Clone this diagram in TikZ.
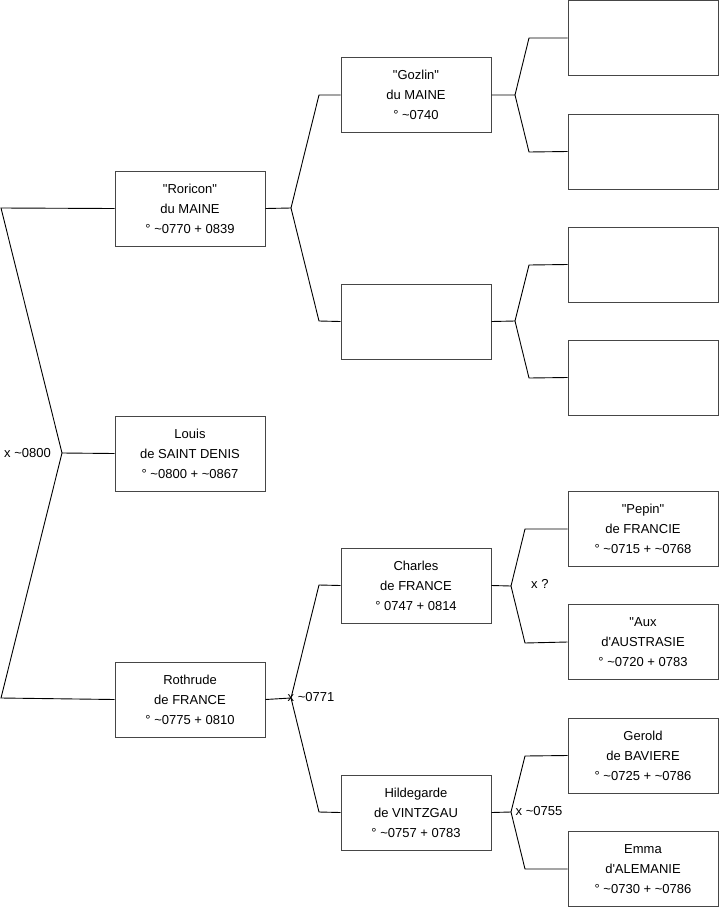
\documentclass[tikz,border=0pt]{standalone}
\usepackage{fontspec}
\setmainfont{Liberation Sans}[Ligatures=TeXOff]
\newcommand{\tl}{\char`\~}
\begin{document}
\begin{tikzpicture}[x=1pt,y=-1pt,
  person/.style={draw={rgb,255:red,70;green,70;blue,70}, line width=1pt, fill=white,
    minimum width=150pt, minimum height=75pt, inner sep=0pt, align=center,
    font=\fontsize{13}{20}\selectfont},
  link/.style={draw=black, line width=0.9pt},
  marr/.style={font=\fontsize{13}{14}\selectfont, inner sep=0pt}]
\useasboundingbox (0,0) rectangle (719,908);
% generation 1
\node[person] (louis) at (190,453.5) {Louis\\de SAINT DENIS\\° \tl0800 + \tl0867};
% generation 2
\node[person] (roricon) at (190,208.5) {"Roricon"\\du MAINE\\° \tl0770 + 0839};
\node[person] (rothrude) at (190,699.5) {Rothrude\\de FRANCE\\° \tl0775 + 0810};
% generation 3
\node[person] (gozlin) at (416,95) {"Gozlin"\\du MAINE\\° \tl0740};
\node[person] (unk) at (416,321.5) {};
\node[person] (charles) at (416,585.5) {Charles\\de FRANCE\\° 0747 + 0814};
\node[person] (hildegarde) at (416,812.5) {Hildegarde\\de VINTZGAU\\° \tl0757 + 0783};
% generation 4
\node[person] (r1) at (643,38) {};
\node[person] (r2) at (643,151.5) {};
\node[person] (r3) at (643,264.5) {};
\node[person] (r4) at (643,377.5) {};
\node[person] (pepin) at (643,529) {"Pepin"\\de FRANCIE\\° \tl0715 + \tl0768};
\node[person] (aux) at (643,642) {"Aux\\d'AUSTRASIE\\° \tl0720 + 0783};
\node[person] (gerold) at (643,755.5) {Gerold\\de BAVIERE\\° \tl0725 + \tl0786};
\node[person] (emma) at (643,869) {Emma\\d'ALEMANIE\\° \tl0730 + \tl0786};
% bracket for Louis
\coordinate (v1) at (62,453);
\coordinate (a1) at (1,208);
\coordinate (b1) at (1,698);
\draw[link] (louis.west) -- (v1) -- (a1) -- (roricon.west);
\draw[link] (v1) -- (b1) -- (rothrude.west);
\node[marr, anchor=east] (m1) at (51,453) {x \tl0800};
% bracket for Roricon
\coordinate (v2) at (291,208);
\coordinate (a2) at (319,95);
\coordinate (b2) at (319,321);
\draw[link] (roricon.east) -- (v2) -- (a2) -- (gozlin.west);
\draw[link] (v2) -- (b2) -- (unk.west);
% bracket for Rothrude
\coordinate (v3) at (291,698);
\coordinate (a3) at (319,585);
\coordinate (b3) at (319,812);
\draw[link] (rothrude.east) -- (v3) -- (a3) -- (charles.west);
\draw[link] (v3) -- (b3) -- (hildegarde.west);
\node[marr, anchor=west] (m3) at (287.5,697.5) {x \tl0771};
% bracket for Gozlin
\coordinate (v4) at (515,95);
\coordinate (a4) at (529,38);
\coordinate (b4) at (529,152);
\draw[link] (gozlin.east) -- (v4) -- (a4) -- (r1.west);
\draw[link] (v4) -- (b4) -- (r2.west);
% bracket for unknown
\coordinate (v5) at (515,321);
\coordinate (a5) at (529,265);
\coordinate (b5) at (529,378);
\draw[link] (unk.east) -- (v5) -- (a5) -- (r3.west);
\draw[link] (v5) -- (b5) -- (r4.west);
% bracket for Charles
\coordinate (v6) at (511,586);
\coordinate (a6) at (525,529);
\coordinate (b6) at (525,643);
\draw[link] (charles.east) -- (v6) -- (a6) -- (pepin.west);
\draw[link] (v6) -- (b6) -- (aux.west);
\node[marr, anchor=west] (m6) at (531,584) {x ?};
% bracket for Hildegarde
\coordinate (v7) at (511,812);
\coordinate (a7) at (525,756);
\coordinate (b7) at (525,869);
\draw[link] (hildegarde.east) -- (v7) -- (a7) -- (gerold.west);
\draw[link] (v7) -- (b7) -- (emma.west);
\node[marr, anchor=west] (m7) at (515.5,811) {x \tl0755};
\end{tikzpicture}
\end{document}
